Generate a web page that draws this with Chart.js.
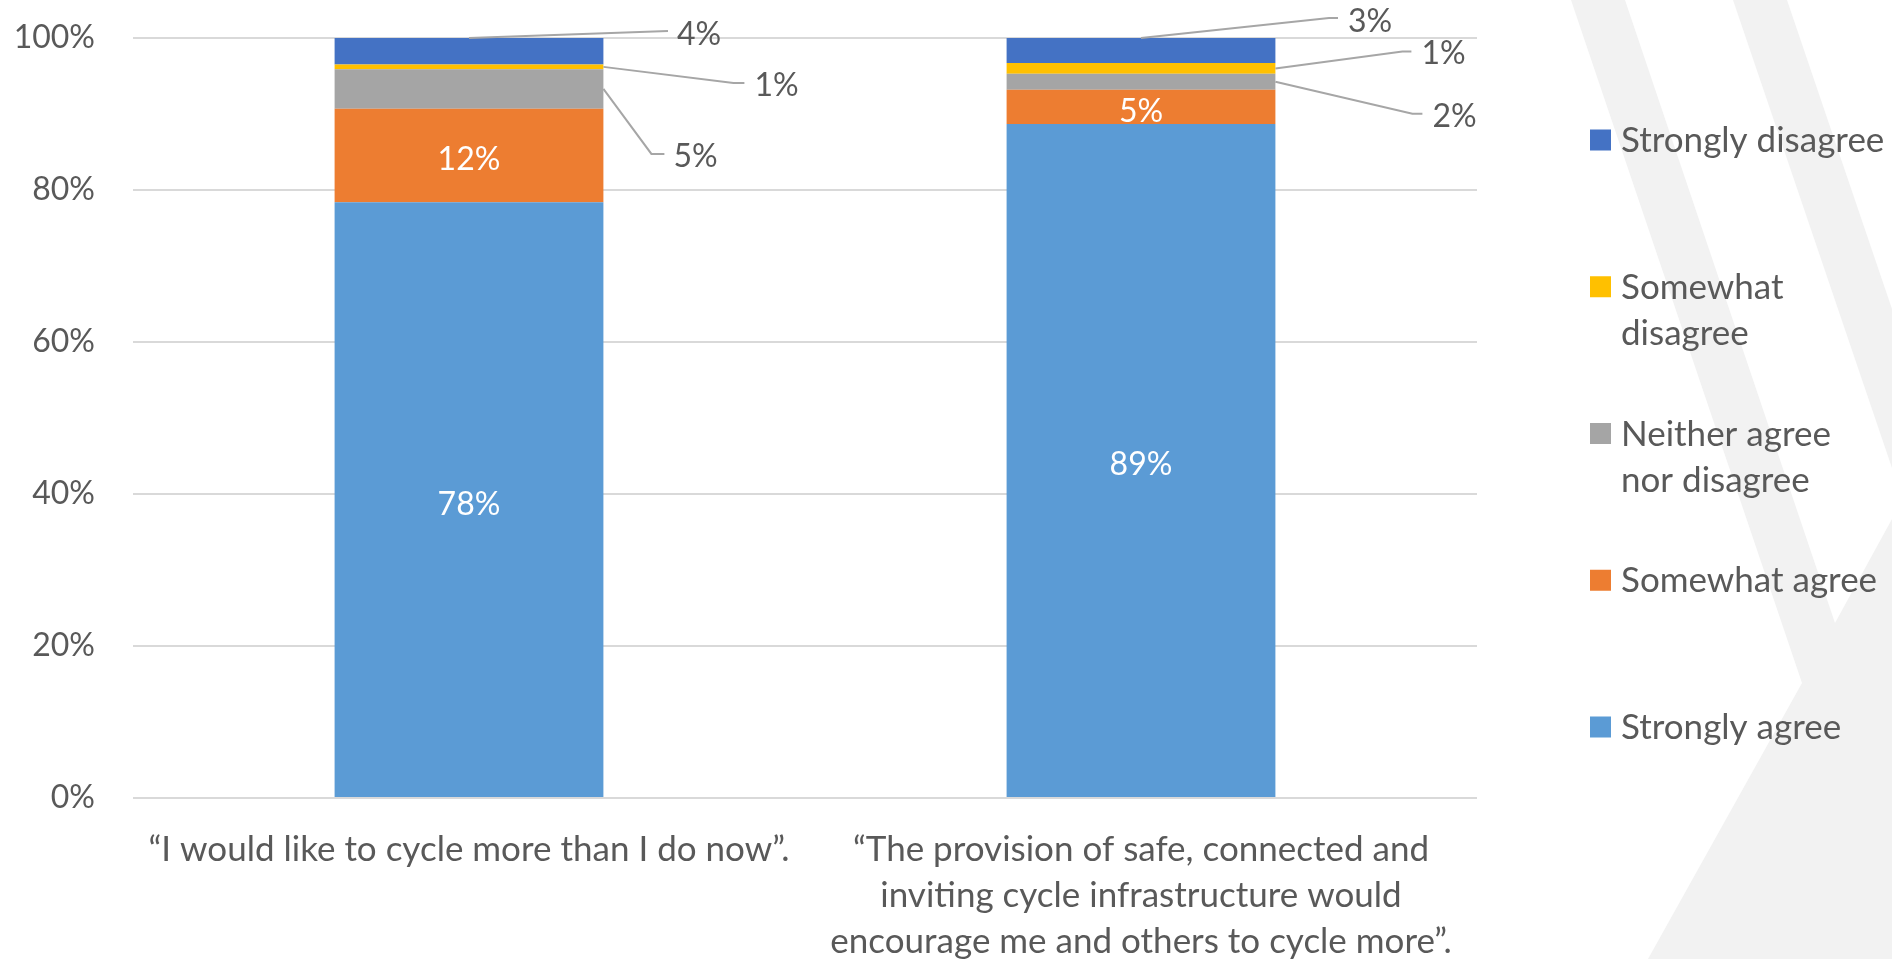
<!DOCTYPE html>
<html>
<head>
<meta charset="utf-8">
<script src="https://cdn.jsdelivr.net/npm/chart.js@4.4.1/dist/chart.umd.min.js"></script>
<style>
  html, body { margin: 0; padding: 0; background: #fff; }
  #wrap { width: 1892px; height: 959px; }
</style>
</head>
<body>
<div id="wrap"><canvas id="bar-chart"></canvas></div>
<script>
var categories = [
  ["“I would like to cycle more than I do now”."],
  ["“The provision of safe, connected and", "inviting cycle infrastructure would", "encourage me and others to cycle more”."],
];
var seriesNames = ["Strongly agree", "Somewhat agree", "Neither agree nor disagree", "Somewhat disagree", "Strongly disagree"];
var stronglyAgree = [78.4, 88.7];
var somewhatAgree = [12.3, 4.5];
var neitherAgree = [5.2, 2.1];
var somewhatDisagree = [0.6, 1.4];
var stronglyDisagree = [3.5, 3.3];
var yTickLabels = ["0%", "20%", "40%", "60%", "80%", "100%"];
var legendLines = [["Strongly agree"], ["Somewhat agree"], ["Neither agree", "nor disagree"], ["Somewhat", "disagree"], ["Strongly disagree"]];

var colors = ["#5b9bd5", "#ed7d31", "#a5a5a5", "#ffc000", "#4472c4"];
var textGrey = "#595959";
var fontName = "Lato";
var numSize = 32;
var textSize = 35;

// leader-line labels for the thin segments, offsets from the segment anchor
var callouts = {
  2: [
    { side: "right", elbow: [48, 65], end: [61, 65], text: [70, 67] },
    { side: "right", elbow: [137, 32], end: [147, 32], text: [157, 34] },
  ],
  3: [
    { side: "right", elbow: [130, 16], end: [141, 16], text: [151, 18] },
    { side: "right", elbow: [127, -17], end: [136, -17], text: [146, -15] },
  ],
  4: [
    { side: "top", elbow: [199, -7], end: [199, -7], text: [208, -4] },
    { side: "top", elbow: [188, -20], end: [197, -20], text: [207, -17] },
  ],
};

var backdrop = {
  id: "backdrop",
  beforeDraw: function (chart) {
    var ctx = chart.ctx;
    ctx.save();
    ctx.fillStyle = "#ffffff";
    ctx.fillRect(0, 0, chart.width, chart.height);
    ctx.fillStyle = "#f2f2f2";
    var shapes = [
      [[1571, 0], [1625, 0], [1835, 623], [1892, 519], [1892, 959], [1648, 959], [1802, 683]],
      [[1733, 0], [1787, 0], [1892, 309], [1892, 468]],
    ];
    shapes.forEach(function (pts) {
      ctx.beginPath();
      ctx.moveTo(pts[0][0], pts[0][1]);
      for (var k = 1; k < pts.length; k++) ctx.lineTo(pts[k][0], pts[k][1]);
      ctx.closePath();
      ctx.fill();
    });
    ctx.restore();
  },
};

var valueLabels = {
  id: "valueLabels",
  afterDatasetsDraw: function (chart) {
    var ctx = chart.ctx;
    ctx.save();
    ctx.font = numSize + "px " + fontName;
    chart.data.datasets.forEach(function (ds, di) {
      var meta = chart.getDatasetMeta(di);
      meta.data.forEach(function (bar, i) {
        var p = bar.getProps(["x", "y", "base", "width"], true);
        var txt = Math.round(ds.data[i]) + "%";
        var c = callouts[di] && callouts[di][i];
        if (!c) {
          ctx.fillStyle = "#ffffff";
          ctx.textAlign = "center";
          ctx.textBaseline = "alphabetic";
          ctx.fillText(txt, p.x, (p.y + p.base) / 2 + 15);
          return;
        }
        var ax = c.side === "top" ? p.x : p.x + p.width / 2;
        var ay = c.side === "top" ? p.y : (p.y + p.base) / 2;
        ctx.strokeStyle = "#a6a6a6";
        ctx.lineWidth = 2;
        ctx.beginPath();
        ctx.moveTo(ax, ay);
        ctx.lineTo(ax + c.elbow[0], ay + c.elbow[1]);
        ctx.lineTo(ax + c.end[0], ay + c.end[1]);
        ctx.stroke();
        ctx.fillStyle = textGrey;
        ctx.textAlign = "left";
        ctx.textBaseline = "alphabetic";
        ctx.fillText(txt, ax + c.text[0], ay + c.text[1] + 11);
      });
    });
    ctx.restore();
  },
};

var sideLegend = {
  id: "sideLegend",
  afterDraw: function (chart) {
    var ctx = chart.ctx;
    ctx.save();
    ctx.font = textSize + "px " + fontName;
    ctx.textAlign = "left";
    ctx.textBaseline = "alphabetic";
    var n = chart.data.datasets.length;
    for (var k = 0; k < n; k++) {
      var di = n - 1 - k;
      var cy = 140 + k * 146.75;
      ctx.fillStyle = chart.data.datasets[di].backgroundColor;
      ctx.fillRect(1590, cy - 10.5, 21, 21);
      ctx.fillStyle = textGrey;
      legendLines[di].forEach(function (line, li) {
        ctx.fillText(line, 1621, cy + 12 + li * 46);
      });
    }
    ctx.restore();
  },
};

var seriesData = [stronglyAgree, somewhatAgree, neitherAgree, somewhatDisagree, stronglyDisagree];

var config = {
  type: "bar",
  data: {
    labels: categories,
    datasets: seriesData.map(function (d, k) {
      return {
        label: seriesNames[k],
        data: d,
        backgroundColor: colors[k],
        borderWidth: 0,
        barPercentage: 0.4,
        categoryPercentage: 1,
      };
    }),
  },
  options: {
    responsive: true,
    maintainAspectRatio: false,
    animation: false,
    layout: { padding: { top: 38, right: 415, bottom: 0, left: 0 } },
    plugins: {
      legend: { display: false },
      tooltip: { enabled: false },
    },
    scales: {
      x: {
        stacked: true,
        grid: { display: false, drawTicks: false },
        border: { display: false },
        ticks: {
          color: textGrey,
          font: { family: fontName, size: textSize, lineHeight: 46 / textSize },
          padding: 29,
          maxRotation: 0,
          autoSkip: false,
        },
        afterFit: function (scale) { scale.height = 161; },
      },
      y: {
        stacked: true,
        min: 0,
        max: 100,
        // invisible tick marks give the gap between labels and plot
        grid: { color: "#d9d9d9", lineWidth: 2, drawTicks: true, tickLength: 38, tickColor: "rgba(0,0,0,0)" },
        border: { display: false },
        ticks: {
          stepSize: 20,
          color: textGrey,
          font: { family: fontName, size: numSize },
          padding: 0,
          callback: function (v) { return yTickLabels[Math.round(v / 20)]; },
        },
        afterFit: function (scale) { scale.width = 133; },
      },
    },
  },
  plugins: [backdrop, valueLabels, sideLegend],
};

var ctxOne = document.getElementById("bar-chart").getContext("2d");
new Chart(ctxOne, config);
</script>
</body>
</html>
